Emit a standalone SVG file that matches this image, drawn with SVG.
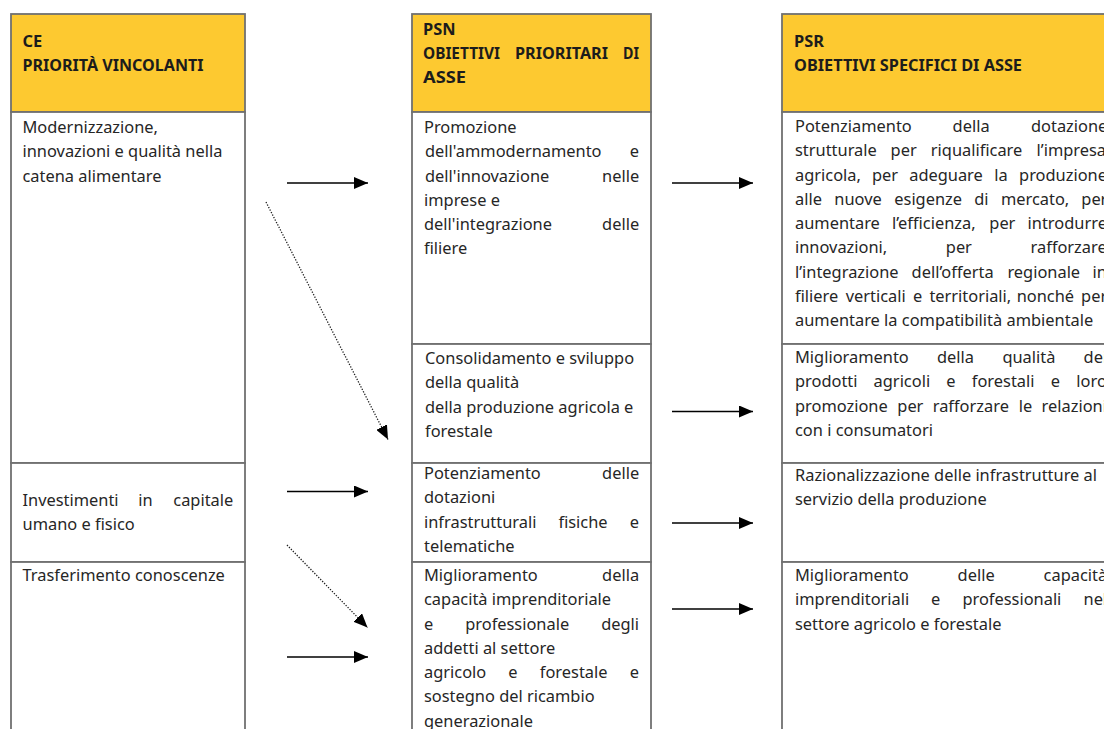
<svg xmlns="http://www.w3.org/2000/svg" width="1104" height="729" viewBox="0 0 1104 729">
<style>
.hdr{fill:#FDC930;stroke:#707070;stroke-width:1.8}
.cell{fill:#fff;stroke:#707070;stroke-width:1.8}
.h{font-family:"Noto Sans","Open Sans",sans-serif;font-weight:bold;font-size:16.4px;fill:#1c1c1c}
.t{font-family:"Noto Sans","Open Sans",sans-serif;font-size:16.4px;fill:#262626}
.arr{stroke:#000;stroke-width:1.5;fill:none}
.dot{stroke:#222;stroke-width:1.3;fill:none;stroke-dasharray:1.3 1.5}
</style>
<defs>
<marker id="ah" markerUnits="userSpaceOnUse" markerWidth="14" markerHeight="12" refX="14" refY="6" orient="auto">
<path d="M0,0 L14,6 L0,12 Z" fill="#000"/>
</marker>
</defs>

<g id="ce-header">
<rect class="hdr" x="11" y="14" width="234" height="98"/>
<text class="h" x="22.5" y="47">CE</text>
<text class="h" x="22.5" y="71" textLength="181" lengthAdjust="spacingAndGlyphs">PRIORITÀ VINCOLANTI</text>
</g>
<g id="ce-1">
<rect class="cell" x="11" y="112" width="234" height="351"/>
<text class="t" x="22.5" y="133">Modernizzazione,</text>
<text class="t" x="22.5" y="157.3">innovazioni e qualità nella</text>
<text class="t" x="22.5" y="181.5">catena alimentare</text>
</g>
<g id="ce-2">
<rect class="cell" x="11" y="463" width="234" height="99"/>
<text class="t" y="506"><tspan x="22.5">Investimenti</tspan><tspan x="138.2">in</tspan><tspan x="173.3">capitale</tspan></text>
<text class="t" x="22.5" y="530">umano e fisico</text>
</g>
<g id="ce-3">
<rect class="cell" x="11" y="562" width="234" height="180"/>
<text class="t" x="22.5" y="581">Trasferimento conoscenze</text>
</g>

<g id="psn-header">
<rect class="hdr" x="412" y="14" width="239" height="98"/>
<text class="h" x="423" y="34.5">PSN</text>
<text class="h" y="59"><tspan x="423" textLength="77" lengthAdjust="spacingAndGlyphs">OBIETTIVI</tspan><tspan x="515" textLength="93" lengthAdjust="spacingAndGlyphs">PRIORITARI</tspan><tspan x="623" textLength="16" lengthAdjust="spacingAndGlyphs">DI</tspan></text>
<text class="h" x="423" y="83" textLength="43" lengthAdjust="spacingAndGlyphs">ASSE</text>
</g>
<g id="psn-1">
<rect class="cell" x="412" y="112" width="239" height="232"/>
<text class="t" x="424" y="133">Promozione</text>
<text class="t" y="157.3"><tspan x="425">dell'ammodernamento</tspan><tspan x="629.8">e</tspan></text>
<text class="t" y="181.5"><tspan x="425">dell'innovazione</tspan><tspan x="602.1">nelle</tspan></text>
<text class="t" x="424" y="205.8">imprese e</text>
<text class="t" y="230"><tspan x="424">dell'integrazione</tspan><tspan x="602.1">delle</tspan></text>
<text class="t" x="424" y="254.3">filiere</text>
</g>
<g id="psn-2">
<rect class="cell" x="412" y="344" width="239" height="119"/>
<text class="t" x="425" y="364">Consolidamento e sviluppo</text>
<text class="t" x="425" y="388.3">della qualità</text>
<text class="t" x="425" y="412.5">della produzione agricola e</text>
<text class="t" x="425" y="436.8">forestale</text>
</g>
<g id="psn-3">
<rect class="cell" x="412" y="463" width="239" height="99"/>
<text class="t" y="479"><tspan x="424">Potenziamento</tspan><tspan x="602.1">delle</tspan></text>
<text class="t" x="424" y="503.3">dotazioni</text>
<text class="t" y="527.5"><tspan x="424">infrastrutturali</tspan><tspan x="558.4">fisiche</tspan><tspan x="629.8">e</tspan></text>
<text class="t" x="424" y="551.8">telematiche</text>
</g>
<g id="psn-4">
<rect class="cell" x="412" y="562" width="239" height="180"/>
<text class="t" y="581"><tspan x="424">Miglioramento</tspan><tspan x="602.1">della</tspan></text>
<text class="t" x="424" y="605.3">capacità imprenditoriale</text>
<text class="t" y="629.5"><tspan x="424">e</tspan><tspan x="465.2">professionale</tspan><tspan x="601.2">degli</tspan></text>
<text class="t" x="424" y="653.8">addetti al settore</text>
<text class="t" y="678"><tspan x="424">agricolo</tspan><tspan x="508.3">e</tspan><tspan x="539.8">forestale</tspan><tspan x="629.8">e</tspan></text>
<text class="t" x="424" y="702.3">sostegno del ricambio</text>
<text class="t" x="424" y="726.5">generazionale</text>
</g>

<g id="psr-header">
<rect class="hdr" x="782" y="14" width="340" height="98"/>
<text class="h" x="794" y="47">PSR</text>
<text class="h" x="794" y="71" textLength="228" lengthAdjust="spacingAndGlyphs">OBIETTIVI SPECIFICI DI ASSE</text>
</g>
<g id="psr-1">
<rect class="cell" x="782" y="112" width="340" height="232"/>
<text class="t" y="132"><tspan x="795">Potenziamento</tspan><tspan x="952.6">della</tspan><tspan x="1031">dotazione</tspan></text>
<text class="t" y="156.3"><tspan x="795">strutturale</tspan><tspan x="890.6">per</tspan><tspan x="930.8">riqualificare</tspan><tspan x="1036.6">l’impresa</tspan></text>
<text class="t" y="180.5"><tspan x="795">agricola,</tspan><tspan x="871.9">per</tspan><tspan x="909.2">adeguare</tspan><tspan x="994.3">la</tspan><tspan x="1019.1">produzione</tspan></text>
<text class="t" y="204.8"><tspan x="795">alle</tspan><tspan x="834.3">nuove</tspan><tspan x="894.3">esigenze</tspan><tspan x="974.2">di</tspan><tspan x="1000.9">mercato,</tspan><tspan x="1081.3">per</tspan></text>
<text class="t" y="229"><tspan x="795">aumentare</tspan><tspan x="892">l’efficienza,</tspan><tspan x="989.3">per</tspan><tspan x="1027.6">introdurre</tspan></text>
<text class="t" y="253.3"><tspan x="795">innovazioni,</tspan><tspan x="945.8">per</tspan><tspan x="1030.5">rafforzare</tspan></text>
<text class="t" y="277.5"><tspan x="795">l’integrazione</tspan><tspan x="911.6">dell’offerta</tspan><tspan x="1007.4">regionale</tspan><tspan x="1092.6">in</tspan></text>
<text class="t" y="301.8"><tspan x="795">filiere</tspan><tspan x="845.7">verticali</tspan><tspan x="912.9">e</tspan><tspan x="929.4">territoriali,</tspan><tspan x="1016.7">nonché</tspan><tspan x="1081.1">per</tspan></text>
<text class="t" x="795" y="326">aumentare la compatibilità ambientale</text>
</g>
<g id="psr-2">
<rect class="cell" x="782" y="344" width="340" height="119"/>
<text class="t" y="363"><tspan x="795">Miglioramento</tspan><tspan x="937">della</tspan><tspan x="1002.4">qualità</tspan><tspan x="1083.6">dei</tspan></text>
<text class="t" y="387.3"><tspan x="795">prodotti</tspan><tspan x="873.6">agricoli</tspan><tspan x="946.3">e</tspan><tspan x="971.8">forestali</tspan><tspan x="1050.8">e</tspan><tspan x="1076.3">loro</tspan></text>
<text class="t" y="411.5"><tspan x="795">promozione</tspan><tspan x="897.3">per</tspan><tspan x="932.7">rafforzare</tspan><tspan x="1018.7">le</tspan><tspan x="1041.6">relazioni</tspan></text>
<text class="t" x="795" y="435.8">con i consumatori</text>
</g>
<g id="psr-3">
<rect class="cell" x="782" y="463" width="340" height="99"/>
<text class="t" x="795" y="481">Razionalizzazione delle infrastrutture al</text>
<text class="t" x="795" y="505.3">servizio della produzione</text>
</g>
<g id="psr-4">
<rect class="cell" x="782" y="562" width="340" height="180"/>
<text class="t" y="581"><tspan x="795">Miglioramento</tspan><tspan x="957.6">delle</tspan><tspan x="1043.6">capacità</tspan></text>
<text class="t" y="605.3"><tspan x="795">imprenditoriali</tspan><tspan x="931.1">e</tspan><tspan x="962.4">professionali</tspan><tspan x="1083.5">nel</tspan></text>
<text class="t" x="795" y="629.5">settore agricolo e forestale</text>
</g>

<g id="connectors">
<line class="arr" x1="287" y1="183" x2="368" y2="183" marker-end="url(#ah)"/>
<line class="arr" x1="287" y1="491.5" x2="368" y2="491.5" marker-end="url(#ah)"/>
<line class="arr" x1="287" y1="657" x2="368" y2="657" marker-end="url(#ah)"/>
<line class="arr" x1="672" y1="183" x2="753" y2="183" marker-end="url(#ah)"/>
<line class="arr" x1="672" y1="411.5" x2="753" y2="411.5" marker-end="url(#ah)"/>
<line class="arr" x1="672" y1="523" x2="753" y2="523" marker-end="url(#ah)"/>
<line class="arr" x1="672" y1="609" x2="753" y2="609" marker-end="url(#ah)"/>
<line class="dot" x1="266" y1="202" x2="388" y2="439.5" marker-end="url(#ah)"/>
<line class="dot" x1="287" y1="545" x2="367.5" y2="627.5" marker-end="url(#ah)"/>
</g>
</svg>
